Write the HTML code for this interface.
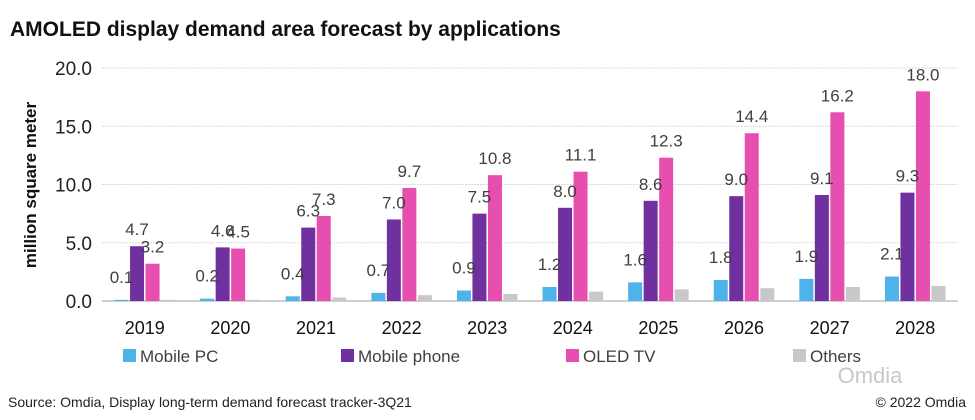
<!DOCTYPE html>
<html><head><meta charset="utf-8"><style>
body{margin:0;background:#fff;font-family:"Liberation Sans",sans-serif;}
svg text{font-family:"Liberation Sans",sans-serif;}
</style></head><body>
<svg width="975" height="415">
<text x="10" y="36" font-size="21" font-weight="bold" fill="#111">AMOLED display demand area forecast by applications</text>
<text transform="translate(36,185) rotate(-90)" text-anchor="middle" font-size="17" font-weight="bold" fill="#111">million square meter</text>
<g id="grid"></g><g id="bars"></g><g id="labels"></g>
<g font-size="17" fill="#404040">
<rect x="123" y="349" width="13" height="13" fill="#4eb3ea"/><text x="140" y="362">Mobile PC</text>
<rect x="341" y="349" width="13" height="13" fill="#7030a0"/><text x="358" y="362">Mobile phone</text>
<rect x="566" y="349" width="13" height="13" fill="#e64fb0"/><text x="583" y="362">OLED TV</text>
<rect x="793" y="349" width="13" height="13" fill="#c8c8c8"/><text x="810" y="362">Others</text>
</g>
<text x="870" y="383" text-anchor="middle" font-size="22" fill="#c8c8c8">Omdia</text>
<text x="8" y="407" font-size="14" fill="#222">Source: Omdia, Display long-term demand forecast tracker-3Q21</text>
<text x="966" y="407" text-anchor="end" font-size="14" fill="#222">© 2022 Omdia</text>
</svg>
<script>
const categories=["2019","2020","2021","2022","2023","2024","2025","2026","2027","2028"];
const mobilePC=[0.1,0.2,0.4,0.7,0.9,1.2,1.6,1.8,1.9,2.1];
const mobilePhone=[4.7,4.6,6.3,7.0,7.5,8.0,8.6,9.0,9.1,9.3];
const oledTV=[3.2,4.5,7.3,9.7,10.8,11.1,12.3,14.4,16.2,18.0];
const others=[0.1,0.1,0.3,0.5,0.6,0.8,1.0,1.1,1.2,1.3];
const yTicks=[0,5,10,15,20];
const NS="http://www.w3.org/2000/svg";
const x0=102,x1=958,yTop=68,yBot=301,yMax=20;
const y=v=>yBot-(v/yMax)*(yBot-yTop);
const gw=(x1-x0)/categories.length;
const cx=i=>x0+gw*(i+0.5);
function mk(tag,attrs,parent){const e=document.createElementNS(NS,tag);for(const k in attrs)e.setAttribute(k,attrs[k]);parent.appendChild(e);return e;}
const grid=document.getElementById('grid'),bars=document.getElementById('bars'),labels=document.getElementById('labels');
yTicks.forEach(t=>{
 const l=mk('line',{x1:x0,x2:x1,y1:y(t),y2:y(t),stroke:t===0?'#bfbfbf':'#d9d9d9','stroke-width':t===0?1.5:1,'stroke-dasharray':t===0?'':'2,1'},grid);
 
 
 const tx=mk('text',{x:92,y:y(t)+7,'text-anchor':'end','font-size':19,fill:'#222'},grid);
 tx.textContent=t.toFixed(1);
 
 
});
const series=[[mobilePC,'#4eb3ea','mobile-pc',true,17],[mobilePhone,'#7030a0','mobile-phone',true,11],[oledTV,'#e64fb0','oled-tv',true,11],[others,'#c8c8c8','others',false,0]];
const bw=14,gap=1.5;
categories.forEach((c,i)=>{
 const t=mk('text',{x:cx(i),y:334,'text-anchor':'middle','font-size':18,fill:'#111'},labels);
 t.textContent=c;
 
 
 series.forEach((s,j)=>{
  const bx=cx(i)-2*bw-1.5*gap+j*(bw+gap);
  const v=s[0][i];
  const r=mk('rect',{x:bx,y:y(v),width:bw,height:yBot-y(v),fill:s[1]},bars);
  
  
  if(s[3]){
   const lb=mk('text',{x:bx+bw/2,y:y(v)-s[4],'text-anchor':'middle','font-size':17,fill:'#404040'},labels);
   lb.textContent=v.toFixed(1);
   
   
  }
 });
});
</script>
</body></html>
